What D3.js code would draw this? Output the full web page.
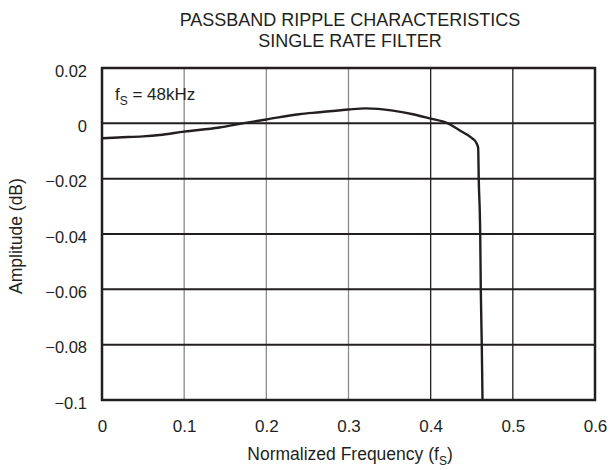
<!DOCTYPE html>
<html><head><meta charset="utf-8">
<script src="https://cdn.jsdelivr.net/npm/d3@7"></script>
<style>body{margin:0;background:#fff}text{font-family:"Liberation Sans",Arial,sans-serif;fill:#231f20}</style>
</head><body><svg id="c" width="613" height="470"></svg>
<script>
const freq = [0, 0.02, 0.05, 0.07, 0.1, 0.143, 0.171, 0.2, 0.24, 0.265, 0.3, 0.321, 0.354, 0.38, 0.3985, 0.421, 0.435, 0.445, 0.451, 0.4555, 0.4578, 0.4585, 0.4603, 0.461, 0.4622, 0.4631];
const amp = [-0.0054, -0.0051, -0.0047, -0.0042, -0.0030, -0.0015, 0, 0.0014, 0.0033, 0.0040, 0.0050, 0.0054, 0.0046, 0.0032, 0.0018, 0, -0.0025, -0.0042, -0.0055, -0.0070, -0.0088, -0.02, -0.04, -0.06, -0.08, -0.1];
const xTicks = [0, 0.1, 0.2, 0.3, 0.4, 0.5, 0.6];
const yTicks = [0.02, 0, -0.02, -0.04, -0.06, -0.08, -0.1];
const yTickLabels = ["0.02", "0", "\u22120.02", "\u22120.04", "\u22120.06", "\u22120.08", "\u22120.1"];
const xTickLabels = ["0", "0.1", "0.2", "0.3", "0.4", "0.5", "0.6"];
const titleLines = ["PASSBAND RIPPLE CHARACTERISTICS", "SINGLE RATE FILTER"];

const L = 102, R = 595, T = 68, B = 400;
const svg = d3.select("#c");
const x = d3.scaleLinear().domain([0, 0.6]).range([L, R]);
const y = d3.scaleLinear().domain([-0.1, 0.02]).range([B, T]);
const ink = "#231f20";

// vertical grid
svg.append("g").selectAll("line").data(xTicks.slice(1, -1)).join("line")
  .attr("x1", d => x(d)).attr("x2", d => x(d)).attr("y1", T).attr("y2", B)
  .attr("stroke", d => d < 0.35 ? "#8a8a8a" : ink).attr("stroke-width", 1.3);
// horizontal grid
svg.append("g").selectAll("line").data(yTicks.slice(1, -1)).join("line")
  .attr("x1", L).attr("x2", R).attr("y1", d => y(d)).attr("y2", d => y(d))
  .attr("stroke", ink).attr("stroke-width", 2);

// curve
const line = d3.line().x((d, i) => x(freq[i])).y(d => y(d)).curve(d3.curveMonotoneX);
svg.append("path").attr("d", line(amp)).attr("fill", "none").attr("stroke", ink).attr("stroke-width", 2.4);

// frame
svg.append("rect").attr("x", L).attr("y", T).attr("width", R - L).attr("height", B - T)
  .attr("fill", "none").attr("stroke", ink).attr("stroke-width", 2.5);

// axes labels
const yAxis = d3.axisLeft(y).tickValues(yTicks).tickSize(0).tickPadding(15)
  .tickFormat((d, i) => yTickLabels[i]);
const gy = svg.append("g").attr("transform", `translate(${L},0)`).call(yAxis);
gy.select(".domain").remove();
gy.selectAll("text").attr("dy", "0.5em").style("font-size", "16.5px")
  .style("font-family", "Liberation Sans, Arial, sans-serif").attr("fill", ink);

const xAxis = d3.axisBottom(x).tickValues(xTicks).tickSize(0).tickPadding(0)
  .tickFormat((d, i) => xTickLabels[i]);
const gx = svg.append("g").attr("transform", `translate(0,${B})`).call(xAxis);
gx.select(".domain").remove();
gx.selectAll("text").attr("y", 32).attr("dy", 0).style("font-size", "17px")
  .style("font-family", "Liberation Sans, Arial, sans-serif").attr("fill", ink);

// titles
svg.selectAll("text.title").data(titleLines).join("text").attr("class", "title")
  .attr("x", 350).attr("y", (d, i) => 26 + i * 21).attr("text-anchor", "middle")
  .style("font-size", "18px").text(d => d);

// x label
const xl = svg.append("text").attr("x", 350).attr("y", 460).attr("text-anchor", "middle").style("font-size", "17.5px");
xl.append("tspan").text("Normalized Frequency (f");
xl.append("tspan").attr("dy", 5).style("font-size", "12px").text("S");
xl.append("tspan").attr("dy", -5).text(")");

// y label
svg.append("text").attr("transform", `translate(22,${(T + B) / 2 + 2}) rotate(-90)`).attr("text-anchor", "middle")
  .style("font-size", "17.5px").text("Amplitude (dB)");

// annotation
const an = svg.append("text").attr("x", 115).attr("y", 100).style("font-size", "17px");
an.append("tspan").text("f");
an.append("tspan").attr("dy", 5).style("font-size", "12px").text("S");
an.append("tspan").attr("dy", -5).text(" = 48kHz");
</script></body></html>
